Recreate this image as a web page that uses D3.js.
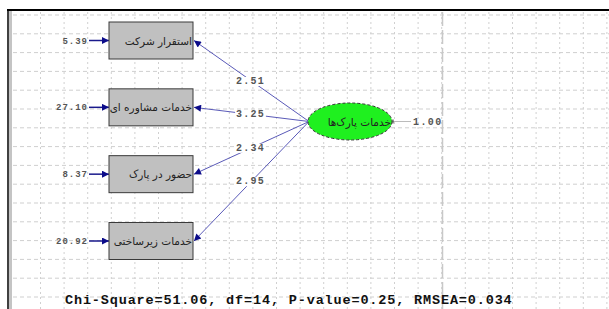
<!DOCTYPE html>
<html>
<head>
<meta charset="utf-8">
<script src="https://cdn.jsdelivr.net/npm/d3@7"></script>
<style>
body { margin:0; background:#fff; }
</style>
</head>
<body>
<div id="viz"></div>
<script>
var width = 609
var height = 309

// model values
var indicators = ["استقرار شرکت", "خدمات مشاوره ای", "حضور در پارک", "خدمات زیرساختی"];
var errorVars = [5.39, 27.10, 8.37, 20.92];
var loadings = [2.51, 3.25, 2.34, 2.95];
var latentName = "خدمات پارک‌ها";
var latentVar = 1.00;
var fitLabels = ["Chi-Square", "df", "P-value", "RMSEA"];
var fitValues = ["51.06", "14", "0.25", "0.034"];

var canvas = d3.select("#viz")
	.append("svg")
	.attr("width", width)
	.attr("height", height);

var defs = canvas.append("defs");
defs.append("marker")
	.attr("id", "head")
	.attr("viewBox", "0 0 10 10")
	.attr("refX", 10).attr("refY", 5)
	.attr("markerUnits", "userSpaceOnUse")
	.attr("markerWidth", 11).attr("markerHeight", 7)
	.attr("orient", "auto")
	.append("path")
	.attr("d", "M0,0L10,5L0,10Z")
	.attr("fill", "#0c0c8a");

// grid
var gx = d3.range(40.5, width, 23.6);
var gy = d3.range(15, height, 18.8);

canvas.selectAll(".hgrid")
	.data(gy)
	.enter()
	.append("line")
	.attr("x1", 13).attr("x2", width)
	.attr("y1", function(d){return d;}).attr("y2", function(d){return d;})
	.attr("stroke", "#cfcfcf")
	.attr("stroke-dasharray", "4,3");

canvas.selectAll(".vgrid")
	.data(gx)
	.enter()
	.append("line")
	.attr("y1", 12).attr("y2", height)
	.attr("x1", function(d){return d;}).attr("x2", function(d){return d;})
	.attr("stroke", "#d0d0d0")
	.attr("stroke-dasharray", "2,3");

canvas.append("line")
	.attr("x1", 442.5).attr("x2", 442.5)
	.attr("y1", 12).attr("y2", height)
	.attr("stroke", "#c8c8c8")
	.attr("stroke-width", 1.5)
	.attr("stroke-dasharray", "14,4");

// frame
canvas.append("rect")
	.attr("x", 9).attr("y", 11).attr("width", 3).attr("height", height)
	.attr("fill", "#c4c4c4");
canvas.append("line")
	.attr("x1", 8).attr("x2", 8).attr("y1", 9).attr("y2", height)
	.attr("stroke", "#000").attr("stroke-width", 1.5);
canvas.append("line")
	.attr("x1", 7).attr("x2", width).attr("y1", 10).attr("y2", 10)
	.attr("stroke", "#000").attr("stroke-width", 2);

// scales
var yScale = d3.scalePoint()
	.domain(indicators)
	.range([40.5, 241]);

var boxW = 84, boxH = 37, boxX = 109;
var latX = 350, latY = 121.5, rx = 42, ry = 18.5;

// paths from latent to indicators
var paths = canvas.selectAll(".path")
	.data(indicators)
	.enter()
	.append("g");

paths.append("line")
	.attr("x1", latX - rx + 1).attr("y1", latY)
	.attr("x2", boxX + boxW + 1)
	.attr("y2", function(d){return yScale(d);})
	.attr("stroke", "#5a5ab8")
	.attr("stroke-width", 1)
	.attr("marker-end", "url(#head)");

paths.each(function(d, i){
	var g = d3.select(this);
	var mx = (latX - rx + boxX + boxW) / 2;
	var my = (latY + yScale(d)) / 2;
	var t = g.append("text")
		.text(d3.format(".2f")(loadings[i]))
		.attr("x", mx).attr("y", my + 3)
		.attr("text-anchor", "middle")
		.attr("font-family", "Liberation Mono")
		.attr("font-size", 10)
		.attr("font-weight", "bold")
		.attr("letter-spacing", 1.2)
		.attr("fill", "#555");
	var bb = t.node().getBBox();
	g.insert("rect", "text")
		.attr("x", bb.x - 1).attr("y", bb.y + 1)
		.attr("width", bb.width + 2).attr("height", bb.height - 2)
		.attr("fill", "#fff");
});

// error arrows
canvas.selectAll(".err")
	.data(indicators)
	.enter()
	.append("line")
	.attr("x1", 89).attr("x2", boxX)
	.attr("y1", function(d){return yScale(d);})
	.attr("y2", function(d){return yScale(d);})
	.attr("stroke", "#1a1a8c")
	.attr("stroke-width", 1.5)
	.attr("marker-end", "url(#head)");

canvas.selectAll(".errlab")
	.data(indicators)
	.enter()
	.append("text")
	.text(function(d, i){return d3.format(".2f")(errorVars[i]);})
	.attr("x", 88)
	.attr("y", function(d){return yScale(d) + 3;})
	.attr("text-anchor", "end")
	.attr("font-family", "Liberation Mono")
	.attr("font-size", 9)
	.attr("font-weight", "bold")
	.attr("letter-spacing", 1)
	.attr("fill", "#555");

// boxes
canvas.selectAll(".box")
	.data(indicators)
	.enter()
	.append("rect")
	.attr("x", boxX)
	.attr("y", function(d){return yScale(d) - boxH / 2;})
	.attr("width", boxW).attr("height", boxH)
	.attr("fill", "#c0c0c0")
	.attr("stroke", "#3a3a3a")
	.attr("stroke-width", 1);

canvas.selectAll(".boxlab")
	.data(indicators)
	.enter()
	.append("text")
	.text(function(d){return d;})
	.attr("x", boxX + boxW - 1)
	.attr("y", function(d){return yScale(d) + 4;})
	.attr("text-anchor", "end")
	.attr("font-family", "DejaVu Sans")
	.attr("font-size", 10.5)
	.attr("fill", "#222");

// latent
canvas.append("line")
	.attr("x1", latX + rx).attr("x2", 411)
	.attr("y1", latY).attr("y2", latY)
	.attr("stroke", "#bbb");
canvas.append("line")
	.attr("x1", latX + rx + 1).attr("x2", latX + rx + 1)
	.attr("y1", latY - 2).attr("y2", latY + 2)
	.attr("stroke", "#333");

canvas.append("ellipse")
	.attr("cx", latX).attr("cy", latY)
	.attr("rx", rx).attr("ry", ry)
	.attr("fill", "#1ff01f")
	.attr("stroke", "#333")
	.attr("stroke-dasharray", "3,2");

canvas.append("text")
	.text(latentName)
	.attr("x", latX + rx - 1).attr("y", latY + 4)
	.attr("text-anchor", "end")
	.attr("font-family", "DejaVu Sans")
	.attr("font-size", 10.5)
	.attr("fill", "#222");

canvas.append("text")
	.text(d3.format(".2f")(latentVar))
	.attr("x", 413).attr("y", latY + 3)
	.attr("font-family", "Liberation Mono")
	.attr("font-size", 10)
	.attr("font-weight", "bold")
	.attr("letter-spacing", 1.4)
	.attr("fill", "#555");

// fit statistics
canvas.append("text")
	.text(fitLabels.map(function(d, i){return d + "=" + fitValues[i];}).join(", "))
	.attr("x", 65).attr("y", 304)
	.attr("font-family", "Liberation Mono")
	.attr("font-size", 13.5)
	.attr("font-weight", "bold")
	.attr("letter-spacing", 0.85)
	.attr("fill", "#111");
</script>
</body>
</html>
